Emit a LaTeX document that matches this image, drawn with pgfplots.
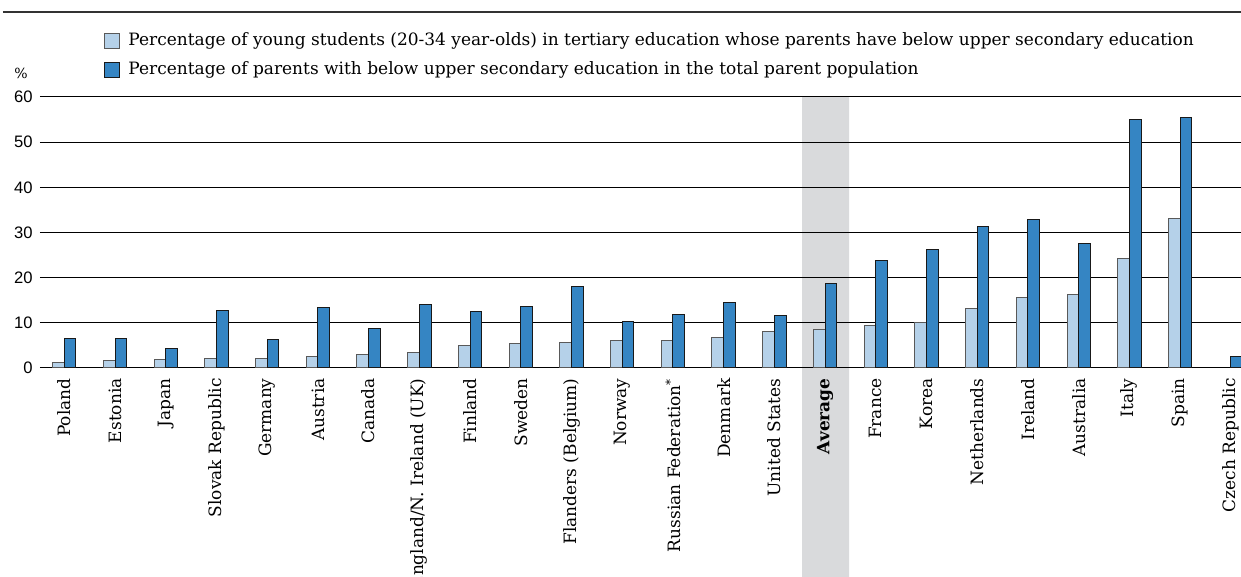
\documentclass[border=0pt]{standalone}
\usepackage{pgfplots}
\pgfplotsset{compat=1.18}
\usepackage{pgfplotstable}
\usepackage{fontspec}
\setmainfont{DejaVu Serif}
\newfontfamily\ticksans{Liberation Sans}
\definecolor{lightbar}{RGB}{181,209,233}
\definecolor{darkbar}{RGB}{53,133,195}
\definecolor{bandgray}{RGB}{217,218,220}
\pgfplotstableread{
x light
0 1.3
1 1.6
2 1.8
3 2.0
4 2.2
5 2.65
6 3.0
7 3.5
8 5.0
9 5.5
10 5.7
11 6.0
12 6.1
13 6.85
14 8.1
15 8.5
16 9.5
17 10.1
18 13.2
19 15.7
20 16.2
21 24.3
22 33.2
}\lighttable
\pgfplotstableread{
x dark
0 6.6
1 6.6
2 4.4
3 12.7
4 6.3
5 13.5
6 8.8
7 14.1
8 12.6
9 13.7
10 18.0
11 10.2
12 11.9
13 14.5
14 11.7
15 18.6
16 23.9
17 26.2
18 31.3
19 32.8
20 27.5
21 55.1
22 55.4
23 2.65
}\darktable
\pgfplotsset{myaxis/.style={
  at={(0pt,0pt)}, anchor=south west,
  scale only axis,
  width=600.5pt, height=135.5pt,
  xmin=-0.479, xmax=23.2,
  ymin=0, ymax=60,
  clip=false}}
\begin{document}
\begin{tikzpicture}
\draw[line width=0.75pt, black!80] (-18.5pt,178pt) -- (600.5pt,178pt);
\begin{axis}[myaxis, hide axis]
\addplot[fill=bandgray, draw=none] coordinates {(14.546,-50) (14.546,60) (15.473,60) (15.473,-50) (14.546,-50)};
\end{axis}
\begin{axis}[
  myaxis,
  axis line style={draw=none},
  ymajorgrids,
  grid style={black, line width=0.5pt},
  ytick={0,10,...,60},
  major tick length=0pt,
  yticklabel style={font=\ticksans\fontsize{8.3}{9}\selectfont, inner sep=0pt, xshift=-3.5pt},
  /pgf/number format/assume math mode=true,
  xtick={0,...,23},
  xticklabels={Poland,Estonia,Japan,Slovak Republic,Germany,Austria,Canada,England/N. Ireland (UK),Finland,Sweden,Flanders (Belgium),Norway,Russian Federation\textsuperscript{*},Denmark,United States,\textbf{Average},France,Korea,Netherlands,Ireland,Australia,Italy,Spain,Czech Republic},
  xticklabel style={font=\fontsize{8.5}{9}\selectfont, inner sep=0pt, yshift=-5pt, rotate=90, anchor=east},
  legend style={at={(0,1)}, anchor=south west, xshift=29pt, yshift=7pt,
    draw=none, fill=none, font=\fontsize{8.5}{9}\selectfont,
    nodes={inner sep=0pt, text height=6.4pt, text depth=1.9pt},
    row sep=6.3pt,
    /tikz/every odd column/.append style={column sep=4pt}},
  legend cell align=left,
  legend image code/.code={\draw[#1, line width=0.5pt] (0pt,-3.75pt) rectangle (7.5pt,3.75pt);},
]
\addplot[ybar, bar width=5.85pt, bar shift=-2.925pt, fill=lightbar, draw=black!65, line width=0.5pt] table[x=x,y=light] {\lighttable};
\addlegendentry{Percentage of young students (20-34 year-olds) in tertiary education whose parents have below upper secondary education}
\addplot[ybar, bar width=5.85pt, bar shift=2.925pt, fill=darkbar, draw=black!90, line width=0.5pt] table[x=x,y=dark] {\darktable};
\addlegendentry{Percentage of parents with below upper secondary education in the total parent population}
\node[font=\fontsize{7}{8}\selectfont, anchor=center] at (axis cs:-0.479,65.3) [xshift=-9.5pt] {\%};
\end{axis}
\pgfresetboundingbox
\useasboundingbox (-20pt,-104.5pt) rectangle (600.5pt,184pt);
\end{tikzpicture}
\end{document}
